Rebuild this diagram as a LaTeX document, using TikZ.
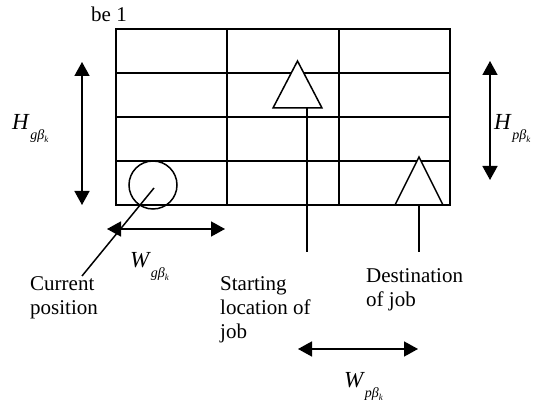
\documentclass[tikz,border=0pt]{standalone}
\usepackage{fontspec}
\setmainfont{Liberation Serif}
\usetikzlibrary{arrows.meta}
\newcommand{\symlab}[2]{{\fontsize{23}{23}\selectfont\itshape #1}\hspace{1.5pt}\raisebox{-10pt}{\fontsize{14}{14}\selectfont\itshape #2\raisebox{-3pt}{\fontsize{9}{9}\selectfont\itshape k}}}
\tikzset{
  gridline/.style={line width=1.8pt},
  thinline/.style={line width=1.5pt},
  dblarrow/.style={line width=1.6pt,{Triangle[length=14pt,width=15pt]}-{Triangle[length=14pt,width=15pt]}},
  txt/.style={font=\fontsize{21}{24}\selectfont,inner sep=0pt,align=left},
  sym/.style={inner sep=0pt}
}
\begin{document}
\begin{tikzpicture}[x=1pt,y=-1pt]
\useasboundingbox[fill=white] (0,0) rectangle (536,411);
% grid
\coordinate (g1) at (116,29);
\coordinate (g2) at (450,205);
\draw[gridline] (g1) rectangle (g2);
\foreach \yy in {73,117,161} \draw[gridline] (116,\yy) -- (450,\yy);
\foreach \xx in {227,339} \draw[gridline] (\xx,29) -- (\xx,205);
% title text
\node[txt,anchor=base west] (title) at (91,22) {be 1};
% circle
\node[draw,circle,line width=1.5pt,minimum size=48pt,inner sep=0pt] (cur) at (153,185) {};
\coordinate (curA) at (154,188);
\coordinate (curB) at (82,276);
\draw[thinline] (curA) -- (curB);
% triangles
\coordinate (t1a) at (297.5,61);
\coordinate (t1l) at (273,108);
\coordinate (t1r) at (322,108);
\draw[thinline,fill=white] (t1l) -- (t1a) -- (t1r) -- cycle;
\coordinate (t2a) at (419,157);
\coordinate (t2l) at (395,205);
\coordinate (t2r) at (443,205);
\draw[thinline,fill=white] (t2l) -- (t2a) -- (t2r) -- cycle;
\draw[gridline] (116,205) -- (450,205);
% job lines
\coordinate (s1) at (307,108);
\coordinate (s2) at (307,252);
\draw[thinline] (s1) -- (s2);
\coordinate (d1) at (419,205);
\coordinate (d2) at (419,252);
\draw[thinline] (d1) -- (d2);
% arrows
\coordinate (hg1) at (82,62);
\coordinate (hg2) at (82,205);
\draw[dblarrow] (hg1) -- (hg2);
\coordinate (hp1) at (490,61);
\coordinate (hp2) at (490,180);
\draw[dblarrow] (hp1) -- (hp2);
\coordinate (wg1) at (107,229);
\coordinate (wg2) at (225,229);
\draw[dblarrow] (wg1) -- (wg2);
\coordinate (wp1) at (298,349);
\coordinate (wp2) at (418,349);
\draw[dblarrow] (wp1) -- (wp2);
% symbol labels
\node[sym,anchor=base west] (lhg) at (12,130) {\symlab{H}{gβ}};
\node[sym,anchor=base west] (lhp) at (494,130) {\symlab{H}{pβ}};
\node[sym,anchor=base west] (lwg) at (130,268) {\symlab{W}{gβ}};
\node[sym,anchor=base west] (lwp) at (344,388) {\symlab{W}{pβ}};
% text labels
\node[txt,anchor=north west] (tcur) at (30,276) {Current\\position};
\node[txt,anchor=north west] (tstart) at (220,276) {Starting\\location of\\job};
\node[txt,anchor=north west] (tdest) at (366,268) {Destination\\of job};
\end{tikzpicture}
\end{document}
